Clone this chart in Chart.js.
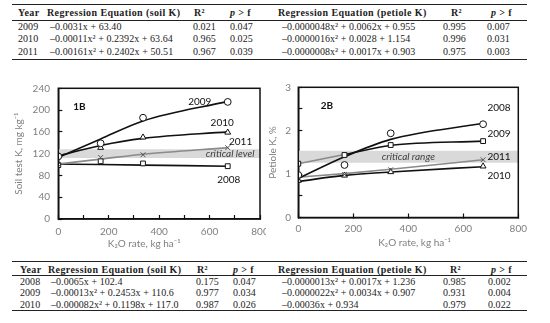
<!DOCTYPE html>
<html>
<head>
<meta charset="utf-8">
<script src="https://cdn.jsdelivr.net/npm/chart.js@4/dist/chart.umd.min.js"></script>
<style>
  body { margin: 0; background: #fff; }
  #page { position: relative; width: 550px; height: 323px; overflow: hidden; }
  .cell { position: absolute; font-family: "Liberation Serif", serif; font-size: 10px; line-height: 12px; color: #222; white-space: nowrap; letter-spacing: 0.05px; }
  .head { font-weight: bold; letter-spacing: 0.4px; }
  .rule { position: absolute; background: #222; }
  canvas { position: absolute; }
</style>
</head>
<body>
<div id="page">
  <canvas id="soil" width="266" height="180" style="left:0;top:70px"></canvas>
  <canvas id="petiole" width="284" height="180" style="left:266px;top:70px"></canvas>
</div>
<script>
// K2O rates applied
const rates = [0, 168, 336, 672];

// soil test K (mg/kg), measured points and fitted curves
const soil2008Pts = [99, 106, 102, 97];
const soil2008Fit = [101, 100, 99, 97];
const soil2009Pts = [115, 139, 186, 215];
const soil2009Fit = [113, 147, 180, 216];
const soil2010Pts = [117, 131, 150, 159];
const soil2010Fit = [116, 135, 148, 160];
const soil2011Pts = [100, 113, 118, 131];
const soil2011Fit = [101, 110, 119, 131];
const soilBand = [112, 128];

// petiole K (%)
const pet2008Pts = [0.98, 1.21, 1.94, 2.15];
const pet2008Fit = [0.90, 1.40, 1.80, 2.17];
const pet2009Pts = [1.24, 1.44, 1.67, 1.76];
const pet2009Fit = [1.24, 1.45, 1.66, 1.76];
const pet2011Pts = [0.93, 0.99, 1.10, 1.33];
const pet2011Fit = [0.93, 1.01, 1.11, 1.33];
const pet2010Pts = [0.85, 0.97, 1.05, 1.18];
const pet2010Fit = [0.83, 0.97, 1.05, 1.17];
const petBand = [1.26, 1.54];

// tables
const topYears = ["2009", "2010", "2011"];
const topSoilEq = ["–0.0031x + 63.40", "–0.00011x² + 0.2392x + 63.64", "–0.00161x² + 0.2402x + 50.51"];
const topSoilR2 = ["0.021", "0.965", "0.967"];
const topSoilP = ["0.047", "0.025", "0.039"];
const topPetEq = ["–0.0000048x² + 0.0062x + 0.955", "–0.0000016x² + 0.0028 + 1.154", "–0.0000008x² + 0.0017x + 0.903"];
const topPetR2 = ["0.995", "0.996", "0.975"];
const topPetP = ["0.007", "0.031", "0.003"];

const botYears = ["2008", "2009", "2010"];
const botSoilEq = ["–0.0065x + 102.4", "–0.00013x² + 0.2453x + 110.6", "–0.000082x² + 0.1198x + 117.0"];
const botSoilR2 = ["0.175", "0.977", "0.987"];
const botSoilP = ["0.047", "0.034", "0.026"];
const botPetEq = ["–0.0000013x² + 0.0017x + 1.236", "–0.0000022x² + 0.0034x + 0.907", "–0.00036x + 0.934"];
const botPetR2 = ["0.985", "0.931", "0.979"];
const botPetP = ["0.002", "0.004", "0.022"];

const page = document.getElementById("page");

function addCell(html, left, centerY, cls) {
    const d = document.createElement("div");
    d.className = "cell" + (cls ? " " + cls : "");
    d.innerHTML = html;
    d.style.left = left + "px";
    d.style.top = (centerY - 6) + "px";
    page.appendChild(d);
}

function addRule(left, right, y, h) {
    const d = document.createElement("div");
    d.className = "rule";
    d.style.left = left + "px";
    d.style.width = (right - left) + "px";
    d.style.top = (y - h / 2) + "px";
    d.style.height = h + "px";
    page.appendChild(d);
}

function buildTable(t) {
    addRule(12, 527, t.rules[0], 1.5);
    addRule(12, 527, t.rules[1], 0.8);
    addRule(12, 527, t.rules[2], 1.5);
    const c = t.cols;
    addCell("Year", c.year, t.rows[0], "head");
    addCell("Regression Equation (soil K)", c.eqHead, t.rows[0], "head");
    addCell("R²", c.r2Head, t.rows[0], "head");
    addCell("<i>p</i> &gt; f", c.pHead, t.rows[0], "head");
    addCell("Regression Equation (petiole K)", c.peqHead, t.rows[0], "head");
    addCell("R²", c.pr2Head, t.rows[0], "head");
    addCell("<i>p</i> &gt; f", c.ppHead, t.rows[0], "head");
    for (let i = 0; i < t.years.length; i++) {
        const y = t.rows[i + 1];
        addCell(t.years[i], c.year, y);
        addCell(t.soilEq[i], c.eq, y);
        addCell(t.soilR2[i], c.r2, y);
        addCell(t.soilP[i], c.p, y);
        addCell(t.petEq[i], c.peq, y);
        addCell(t.petR2[i], c.pr2, y);
        addCell(t.petP[i], c.pp, y);
    }
}

buildTable({
    rules: [4.7, 20.7, 59.3],
    rows: [13, 27.3, 39.3, 51.5],
    cols: {year: 18, eqHead: 47, eq: 50, r2Head: 194, r2: 193, pHead: 230, p: 230,
           peqHead: 278, peq: 282, pr2Head: 451, pr2: 443, ppHead: 491, pp: 487},
    years: topYears, soilEq: topSoilEq, soilR2: topSoilR2, soilP: topSoilP,
    petEq: topPetEq, petR2: topPetR2, petP: topPetP
});

buildTable({
    rules: [261.7, 275, 310.7],
    rows: [269.5, 281.7, 293.3, 305],
    cols: {year: 20, eqHead: 48, eq: 51, r2Head: 197, r2: 196, pHead: 233, p: 233,
           peqHead: 278, peq: 282, pr2Head: 450, pr2: 443, ppHead: 491, pp: 488},
    years: botYears, soilEq: botSoilEq, soilR2: botSoilR2, soilP: botSoilP,
    petEq: botPetEq, petR2: botPetR2, petP: botPetP
});

// ---- charts ----
const BLACK = "#111";
const GREY = "#8a8a8a";
const AXIS_GREY = "#7f7f7f";
const FONT = "Lato, 'Liberation Sans', sans-serif";

function pts(arr) {
    return rates.map((x, i) => ({x: x, y: arr[i]}));
}

function fitLine(label, arr, color, extra) {
    return Object.assign({
        label: label,
        data: pts(arr),
        showLine: true,
        borderColor: color,
        borderWidth: 1.6,
        pointRadius: 0,
        cubicInterpolationMode: "monotone",
        order: 2,
    }, extra || {});
}

function markers(label, arr, style, color) {
    return {
        label: label,
        data: pts(arr),
        showLine: false,
        pointStyle: style,
        pointRadius: 3.4,
        pointBorderWidth: 1,
        pointBorderColor: color,
        pointBackgroundColor: "#fff",
        order: 1,
    };
}

function band(range) {
    return [
        {label: "band low", data: [{x: 0, y: range[0]}, {x: 800, y: range[0]}],
         showLine: true, borderWidth: 0, pointRadius: 0, order: 10},
        {label: "band high", data: [{x: 0, y: range[1]}, {x: 800, y: range[1]}],
         showLine: true, borderWidth: 0, pointRadius: 0, fill: 0,
         backgroundColor: "#d9d9d9", order: 10},
    ];
}

const frame = {
    id: "frame",
    afterDraw(chart) {
        const {ctx, chartArea: a} = chart;
        ctx.save();
        ctx.strokeStyle = BLACK;
        ctx.lineWidth = 1.5;
        ctx.strokeRect(a.left, a.top, a.right - a.left, a.bottom - a.top);
        ctx.restore();
    }
};

const textLabels = {
    id: "textLabels",
    afterDatasetsDraw(chart, args, opts) {
        const {ctx, scales: {x, y}} = chart;
        ctx.save();
        for (const t of opts.items) {
            ctx.font = t.font;
            ctx.fillStyle = t.color || BLACK;
            ctx.textAlign = t.align || "center";
            ctx.textBaseline = "middle";
            ctx.fillText(t.text, x.getPixelForValue(t.x), y.getPixelForValue(t.y));
        }
        ctx.restore();
    }
};

function makeOptions(cfg) {
    return {
        responsive: false,
        animation: false,
        layout: {padding: cfg.padding},
        plugins: {
            legend: {display: false},
            tooltip: {enabled: false},
            textLabels: {items: cfg.labels},
        },
        scales: {
            x: {
                type: "linear", min: 0, max: 800,
                border: {color: BLACK, width: 1.5},
                grid: {drawOnChartArea: false, tickLength: -4, color: BLACK, tickWidth: 1.2},
                ticks: {stepSize: cfg.xStep, padding: cfg.xTickPad, color: AXIS_GREY,
                        font: {family: FONT, size: 10},
                        callback: v => (v % 200 === 0 ? v : "")},
                title: {display: true, text: cfg.xTitle, color: AXIS_GREY,
                        font: {family: FONT, size: 10}, padding: {top: 0, bottom: cfg.xTitlePad}},
                afterFit: s => { s.height = cfg.xHeight; s.paddingLeft = 0; s.paddingRight = 0; },
            },
            y: {
                type: "linear", min: cfg.yMin, max: cfg.yMax,
                border: {color: BLACK, width: 1.5},
                grid: {drawOnChartArea: false, tickLength: -4, color: BLACK, tickWidth: 1.2},
                ticks: {stepSize: cfg.yStep, padding: cfg.yTickPad, color: AXIS_GREY,
                        font: {family: FONT, size: 10}, callback: cfg.yLabel},
                title: {display: true, text: cfg.yTitle, color: AXIS_GREY,
                        font: {family: FONT, size: 10}, padding: {top: cfg.yTitlePad, bottom: 0}},
                afterFit: s => { s.width = cfg.yWidth; },
            },
        },
    };
}

new Chart("soil", {
    type: "scatter",
    data: {
        datasets: [
            ...band(soilBand),
            fitLine("2009", soil2009Fit, BLACK),
            fitLine("2010", soil2010Fit, BLACK),
            fitLine("2011", soil2011Fit, GREY),
            fitLine("2008", soil2008Fit, BLACK),
            markers("2009", soil2009Pts, "circle", BLACK),
            markers("2010", soil2010Pts, "triangle", BLACK),
            markers("2011", soil2011Pts, "crossRot", "#555"),
            markers("2008", soil2008Pts, "rect", BLACK),
        ],
    },
    options: makeOptions({
        padding: {left: 0, right: 6, top: 14, bottom: 0},
        xStep: 100, xTickPad: 10.7, xTitlePad: 0.7, xHeight: 31,
        xTitle: "K₂O rate, kg ha⁻¹\u2003\u2003\u2003\u2003",
        yMin: 0, yMax: 240, yStep: 40, yTickPad: 12.3, yWidth: 58.3, yTitlePad: 13,
        yTitle: "Soil test K, mg kg⁻¹",
        yLabel: v => v,
        labels: [
            {text: "1B", x: 84, y: 206, font: "bold 10px " + FONT},
            {text: "2009", x: 561, y: 216, font: "10px " + FONT},
            {text: "2010", x: 650, y: 176, font: "10px " + FONT},
            {text: "2011", x: 723, y: 142, font: "10px " + FONT},
            {text: "2008", x: 676, y: 72, font: "10px " + FONT},
            {text: "critical level", x: 778, y: 120, align: "right", color: "#404040",
             font: "italic 10px " + FONT},
        ],
    }),
    plugins: [frame, textLabels],
});

new Chart("petiole", {
    type: "scatter",
    data: {
        datasets: [
            ...band(petBand),
            fitLine("2008", pet2008Fit, BLACK),
            fitLine("2009", pet2009Fit, BLACK,
                {segment: {borderColor: ctx => (ctx.p0DataIndex === 0 ? GREY : BLACK)}}),
            fitLine("2011", pet2011Fit, GREY),
            fitLine("2010", pet2010Fit, BLACK),
            markers("2008", pet2008Pts, "circle", BLACK),
            markers("2009", pet2009Pts, "rect", BLACK),
            markers("2011", pet2011Pts, "crossRot", "#555"),
            markers("2010", pet2010Pts, "triangle", BLACK),
        ],
    },
    options: makeOptions({
        padding: {left: 0, right: 31.7, top: 14, bottom: 0},
        xStep: 200, xTickPad: 9.5, xTitlePad: 1.3, xHeight: 32.5,
        xTitle: "\u2003\u2002K₂O rate, kg ha⁻¹",
        yMin: 0, yMax: 3, yStep: 0.5, yTickPad: 11.3, yWidth: 32.3, yTitlePad: 1,
        yTitle: "Petiole K, %",
        yLabel: v => (Number.isInteger(v) ? v : ""),
        labels: [
            {text: "2B", x: 104, y: 2.58, font: "bold 10px " + FONT},
            {text: "2008", x: 730, y: 2.52, font: "10px " + FONT},
            {text: "2009", x: 730, y: 1.93, font: "10px " + FONT},
            {text: "2011", x: 730, y: 1.39, font: "10px " + FONT},
            {text: "2010", x: 730, y: 0.96, font: "10px " + FONT},
            {text: "critical range", x: 400, y: 1.40, color: "#404040",
             font: "italic 10px " + FONT},
        ],
    }),
    plugins: [frame, textLabels],
});
</script>
</body>
</html>
